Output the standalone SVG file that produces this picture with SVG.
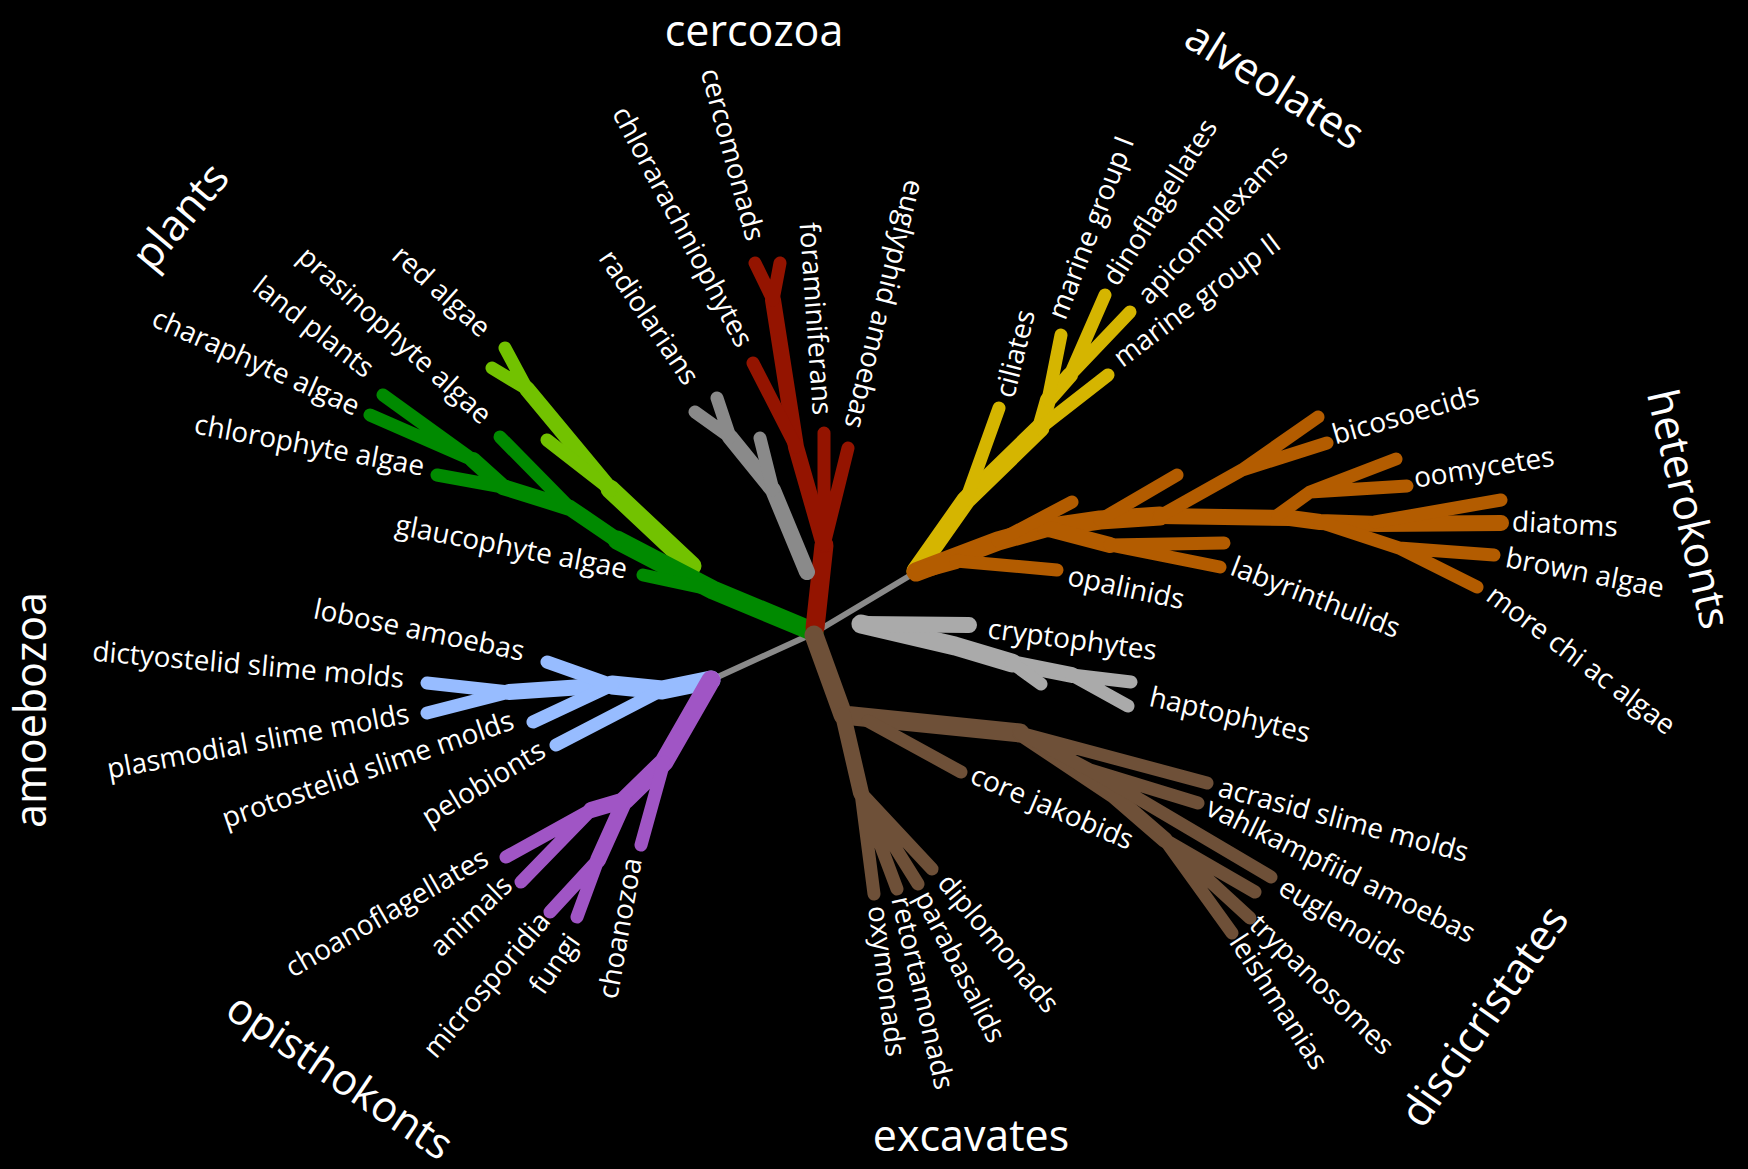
<svg xmlns="http://www.w3.org/2000/svg" width="1748" height="1169" viewBox="0 0 1748 1169">
<style>
.br{fill:none;stroke-linecap:round;stroke-linejoin:round}
.w1{stroke-width:19}
.w2{stroke-width:16}
.w3{stroke-width:13}
.lgreen{stroke:#72c200}
.dgreen{stroke:#008a00}
.red{stroke:#941400}
.gray{stroke:#8a8a8a}
.yellow{stroke:#d5b500}
.orange{stroke:#b35c00}
.lgray{stroke:#aaaaaa}
.blue{stroke:#97bcff}
.purple{stroke:#a055c5}
.brown{stroke:#6e5038}
.conn{stroke:#8a8a8a;stroke-width:6;fill:none;stroke-linecap:round}
.lbl{font-family:"Open Sans","Noto Sans",sans-serif;font-size:28px;fill:#fff}
.ttl{font-family:"Open Sans","Noto Sans",sans-serif;font-size:43px;fill:#fff}
.e{text-anchor:end}
.m{text-anchor:middle}
</style>
<rect width="1748" height="1169" fill="#000"/>
<g id="connectors">
<path class="conn" d="M814 633 L916 572 M814 633 L711 680"/>
</g>
<g id="plants">
<path class="br lgreen w1" d="M692 566 L610 489"/>
<path class="br lgreen w2" d="M610 489 L527 389"/>
<path class="br lgreen w3" d="M527 389 L505 348 M527 389 L492 368 M610 489 L547 440"/>
<path class="br dgreen w1" d="M814 632 L713 590 L617 540"/>
<path class="br dgreen w2" d="M617 540 L570 508 L503 487 L473 460"/>
<path class="br dgreen w3" d="M713 590 L643 575 M570 508 L500 437 M503 487 L437 475 M473 460 L383 395 M473 460 L370 415"/>
</g>
<g id="cercozoa">
<path class="br red w1" d="M815 628 L824 545"/>
<path class="br red w2" d="M824 545 L796 447 L773 300"/>
<path class="br red w3" d="M824 545 L824 433 M824 545 L848 448 M796 447 L753 363 M773 300 L755 263 M773 300 L780 263"/>
</g>
<g id="radiolarians-clade">
<path class="br gray w2" d="M807 572 L773 490 L730 437"/>
<path class="br gray w3" d="M773 490 L760 438 M730 437 L717 398 M730 437 L695 412"/>
</g>
<g id="alveolates">
<path class="br yellow w1" d="M916 571 L966 500 L1040 428"/>
<path class="br yellow w2" d="M1040 428 L1048 400 L1070 375"/>
<path class="br yellow w3" d="M966 500 L999 408 M1040 428 L1108 375 M1048 400 L1061 335 M1070 375 L1105 295 M1070 375 L1130 312"/>
</g>
<g id="heterokonts">
<path class="br orange w1" d="M916 572 L998 541 L1045 528 L1100 520 L1160 516"/>
<path class="br orange w2" d="M1160 516 L1290 518 L1320 522 L1378 524 L1501 523 M916 572 L956 561 M1045 528 L1110 545"/>
<path class="br orange w3" d="M956 561 L1057 570 M998 541 L1072 502 M1110 545 L1224 543 M1110 545 L1220 567 M1100 520 L1177 475 M1160 516 L1242 470 L1318 417 M1242 470 L1327 443 M1278 515 L1310 492 L1396 459 M1310 492 L1407 486 M1375 522 L1501 500 M1320 522 L1399 548 L1494 555 M1399 548 L1477 587"/>
</g>
<g id="cryptophytes-haptophytes">
<path class="br lgray w1" d="M861 624 L955 646 L1012 663"/>
<path class="br lgray w2" d="M861 624 L969 625 M1012 663 L1072 675"/>
<path class="br lgray w3" d="M1012 663 L1041 684 M1072 675 L1131 682 M1072 675 L1128 706"/>
</g>
<g id="amoebozoa">
<path class="br blue w1" d="M711 680 L662 690 L612 685"/>
<path class="br blue w2" d="M612 685 L509 692"/>
<path class="br blue w3" d="M509 692 L427 683 M509 692 L427 713 M662 690 L556 745 M612 685 L547 662 M612 685 L533 722"/>
</g>
<g id="opisthokonts">
<path class="br purple w1" d="M711 680 L664 762 L625 800"/>
<path class="br purple w2" d="M625 800 L591 810 M625 800 L598 860"/>
<path class="br purple w3" d="M591 810 L506 857 M591 810 L521 882 M598 860 L550 912 M598 860 L577 917 M664 762 L641 845"/>
</g>
<g id="excavates">
<path class="br brown w1" d="M814 635 L843 715 L1020 733"/>
<path class="br brown w2" d="M843 715 L861 793 M1020 733 L1113 795 L1165 840"/>
<path class="br brown w3" d="M861 793 L874 894 M861 793 L897 889 M861 793 L918 884 M861 793 L932 869 M868 721 L961 772 M1020 733 L1207 783 M1020 733 L1090 770 L1198 803 M1090 770 L1271 877 M1165 840 L1255 892 M1165 840 L1250 918 M1165 840 L1232 933"/>
</g>
<g id="labels">
<text class="lbl e" transform="translate(486 332) rotate(42)" dy="0.32em">red algae</text>
<text class="lbl e" transform="translate(487 419) rotate(42)" dy="0.32em">prasinophyte algae</text>
<text class="lbl e" transform="translate(370 372) rotate(38)" dy="0.32em">land plants</text>
<text class="lbl e" transform="translate(358 408) rotate(24)" dy="0.32em">charaphyte algae</text>
<text class="lbl e" transform="translate(424 467) rotate(10.5)" dy="0.32em">chlorophyte algae</text>
<text class="lbl e" transform="translate(627 570) rotate(11)" dy="0.32em">glaucophyte algae</text>
<text class="lbl e" transform="translate(524 652) rotate(11.5)" dy="0.32em">lobose amoebas</text>
<text class="lbl e" transform="translate(404 679) rotate(5)" dy="0.32em">dictyostelid slime molds</text>
<text class="lbl e" transform="translate(409 714) rotate(-10.5)" dy="0.32em">plasmodial slime molds</text>
<text class="lbl e" transform="translate(513 720) rotate(-19)" dy="0.32em">protostelid slime molds</text>
<text class="lbl e" transform="translate(543 748) rotate(-31)" dy="0.32em">pelobionts</text>
<text class="lbl e" transform="translate(486 856) rotate(-30)" dy="0.32em">choanoflagellates</text>
<text class="lbl e" transform="translate(508 881) rotate(-44)" dy="0.32em">animals</text>
<text class="lbl e" transform="translate(545 916) rotate(-50)" dy="0.32em">microsporidia</text>
<text class="lbl e" transform="translate(574 937) rotate(-55)" dy="0.32em">fungi</text>
<text class="lbl e" transform="translate(633 858) rotate(-80)" dy="0.32em">choanozoa</text>
<text class="lbl e" transform="translate(692 382) rotate(56)" dy="0.32em">radiolarians</text>
<text class="lbl e" transform="translate(745 345) rotate(62)" dy="0.32em">chlorarachniophytes</text>
<text class="lbl e" transform="translate(755 240) rotate(75)" dy="0.32em">cercomonads</text>
<text class="lbl e" transform="translate(822 415) rotate(86)" dy="0.32em">foraminiferans</text>
<text class="lbl e" transform="translate(853 428) rotate(104)" dy="0.32em">euglyphid amoebas</text>
<text class="lbl" transform="translate(1068 576) rotate(12)" dy="0.32em">opalinids</text>
<text class="lbl" transform="translate(1232 566) rotate(21)" dy="0.32em">labyrinthulids</text>
<text class="lbl" transform="translate(1333 436) rotate(-16)" dy="0.32em">bicosoecids</text>
<text class="lbl" transform="translate(1414 479) rotate(-9)" dy="0.32em">oomycetes</text>
<text class="lbl" transform="translate(1512 522) rotate(3)" dy="0.32em">diatoms</text>
<text class="lbl" transform="translate(1506 558) rotate(11)" dy="0.32em">brown algae</text>
<text class="lbl" transform="translate(1490 592) rotate(37)" dy="0.32em">more chi ac algae</text>
<text class="lbl" transform="translate(988 629) rotate(7.5)" dy="0.32em">cryptophytes</text>
<text class="lbl" transform="translate(1150 697) rotate(13)" dy="0.32em">haptophytes</text>
<text class="lbl" transform="translate(972 774) rotate(23)" dy="0.32em">core jakobids</text>
<text class="lbl" transform="translate(1219 787) rotate(15)" dy="0.32em">acrasid slime molds</text>
<text class="lbl" transform="translate(1208 806) rotate(26)" dy="0.32em">vahlkampfiid amoebas</text>
<text class="lbl" transform="translate(1281 885) rotate(31)" dy="0.32em">euglenoids</text>
<text class="lbl" transform="translate(1254 920) rotate(44)" dy="0.32em">trypanosomes</text>
<text class="lbl" transform="translate(1236 937) rotate(57)" dy="0.32em">leishmanias</text>
<text class="lbl" transform="translate(943 878) rotate(50)" dy="0.32em">diplomonads</text>
<text class="lbl" transform="translate(922 893) rotate(63)" dy="0.32em">parabasalids</text>
<text class="lbl" transform="translate(900 897) rotate(77)" dy="0.32em">retortamonads</text>
<text class="lbl" transform="translate(877 906) rotate(83)" dy="0.32em">oxymonads</text>
<text class="lbl" transform="translate(1005 397) rotate(-76)" dy="0.32em">ciliates</text>
<text class="lbl" transform="translate(1057 318) rotate(-69)" dy="0.32em">marine group I</text>
<text class="lbl" transform="translate(1110 283) rotate(-58)" dy="0.32em">dinoflagellates</text>
<text class="lbl" transform="translate(1143 300) rotate(-47)" dy="0.32em">apicomplexams</text>
<text class="lbl" transform="translate(1117 361) rotate(-37)" dy="0.32em">marine group II</text>
</g>
<g id="titles">
<text class="ttl m" x="754" y="46">cercozoa</text>
<text class="ttl m" transform="translate(1275 85) rotate(32)" dy="0.35em">alveolates</text>
<text class="ttl m" transform="translate(180 216) rotate(-50)" dy="0.35em">plants</text>
<text class="ttl m" transform="translate(1689 509) rotate(77)" dy="0.35em">heterokonts</text>
<text class="ttl m" transform="translate(31 710) rotate(-90)" dy="0.35em">amoebozoa</text>
<text class="ttl m" transform="translate(340 1076) rotate(34)" dy="0.35em">opisthokonts</text>
<text class="ttl m" x="971" y="1151">excavates</text>
<text class="ttl m" transform="translate(1484 1016) rotate(-55)" dy="0.35em">discicristates</text>
</g>
</svg>
